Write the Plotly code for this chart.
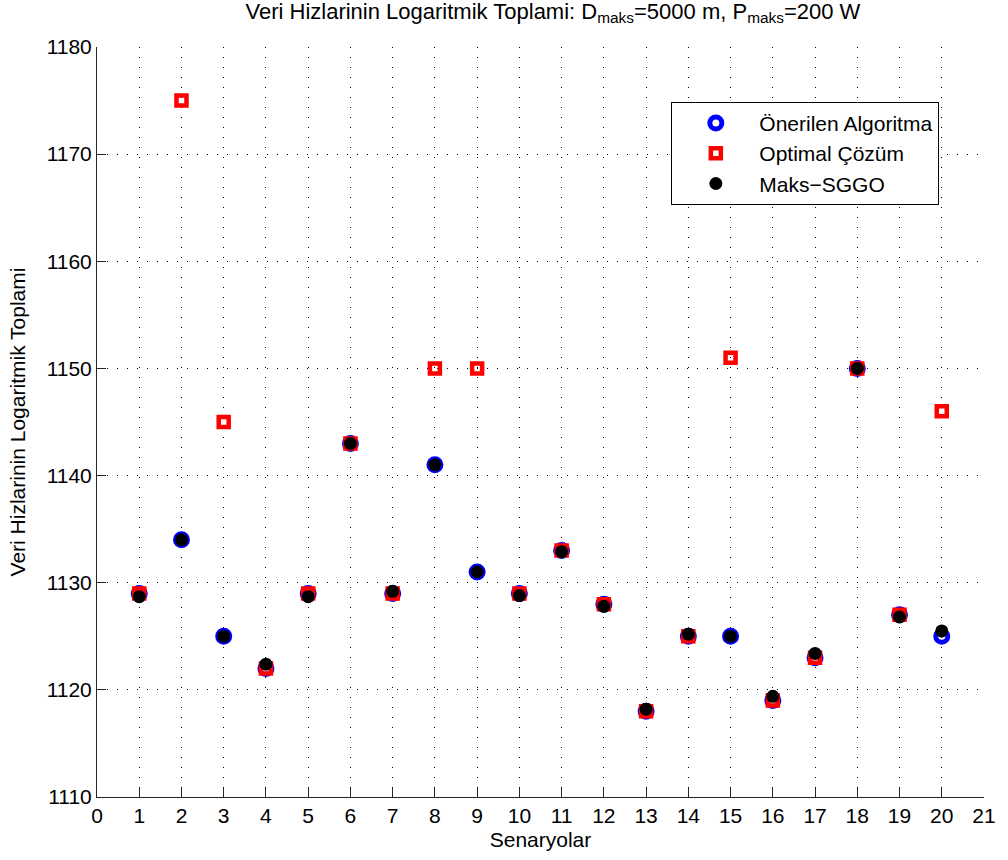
import plotly.graph_objects as go

# Scenario indices and the three series of log-sum data rates
senaryolar = list(range(1, 21))
onerilen_algoritma = [1129, 1134, 1125, 1122, 1129, 1143, 1129, 1141, 1131, 1129,
                      1133, 1128, 1118, 1125, 1125, 1119, 1123, 1150, 1127, 1125]
optimal_cozum = [1129, 1175, 1145, 1122, 1129, 1143, 1129, 1150, 1150, 1129,
                 1133, 1128, 1118, 1125, 1151, 1119, 1123, 1150, 1127, 1146]
maks_sggo = [1128.7, 1134, 1125, 1122.4, 1128.7, 1143, 1129.2, 1141, 1131, 1128.8,
             1132.9, 1127.8, 1118.2, 1125.2, 1125, 1119.4, 1123.4, 1150, 1126.8, 1125.5]

x_ticks = list(range(0, 22))
y_ticks = list(range(1110, 1181, 10))

FONT = "Liberation Sans, Arial, Helvetica, sans-serif"
FS = 21

fig = go.Figure()
fig.add_trace(go.Scatter(
    x=senaryolar, y=onerilen_algoritma, mode="markers", name="Önerilen Algoritma",
    marker=dict(symbol="circle-open", size=12, color="#0000ff",
                line=dict(width=5, color="#0000ff")),
))
fig.add_trace(go.Scatter(
    x=senaryolar, y=optimal_cozum, mode="markers", name="Optimal Çözüm",
    marker=dict(symbol="square-open", size=10, color="#ff0000",
                line=dict(width=4.5, color="#ff0000")),
))
fig.add_trace(go.Scatter(
    x=senaryolar, y=maks_sggo, mode="markers", name="Maks\u2212SGGO",
    marker=dict(symbol="circle", size=13, color="#000000", line=dict(width=0)),
))

axis_common = dict(
    showline=True, linecolor="#262626", linewidth=1, mirror=False,
    ticks="inside", ticklen=9, tickcolor="#262626", tickwidth=1,
    showgrid=True, gridcolor="#000000", gridwidth=1, griddash="1px,9px",
    zeroline=False,
    tickfont=dict(family=FONT, size=FS, color="#000000"),
)

fig.update_xaxes(
    range=[0, 21], tickmode="array", tickvals=x_ticks,
    title=dict(text="Senaryolar", font=dict(family=FONT, size=FS, color="#000000"),
               standoff=6),
    **axis_common,
)
fig.update_yaxes(
    range=[1110, 1180], tickmode="array", tickvals=y_ticks,
    title=dict(text="Veri Hizlarinin Logaritmik Toplami",
               font=dict(family=FONT, size=FS, color="#000000"), standoff=15),
    **axis_common,
)

fig.update_layout(
    width=1008, height=860,
    margin=dict(l=97, r=18, t=47, b=63),
    paper_bgcolor="#ffffff", plot_bgcolor="#ffffff",
    title=dict(
        text="Veri Hizlarinin Logaritmik Toplami: D<sub>maks</sub>=5000 m, P<sub>maks</sub>=200 W",
        xref="paper", x=0.514, xanchor="center", y=0.996, yanchor="top",
        font=dict(family=FONT, size=22, color="#000000"),
    ),
    legend=dict(
        x=0.6475, y=0.927, xanchor="left", yanchor="top",
        bgcolor="#ffffff", bordercolor="#000000", borderwidth=1,
        font=dict(family=FONT, size=FS, color="#000000"),
        itemwidth=77, tracegroupgap=0,
    ),
    showlegend=True,
)

fig.write_html("out.html")
